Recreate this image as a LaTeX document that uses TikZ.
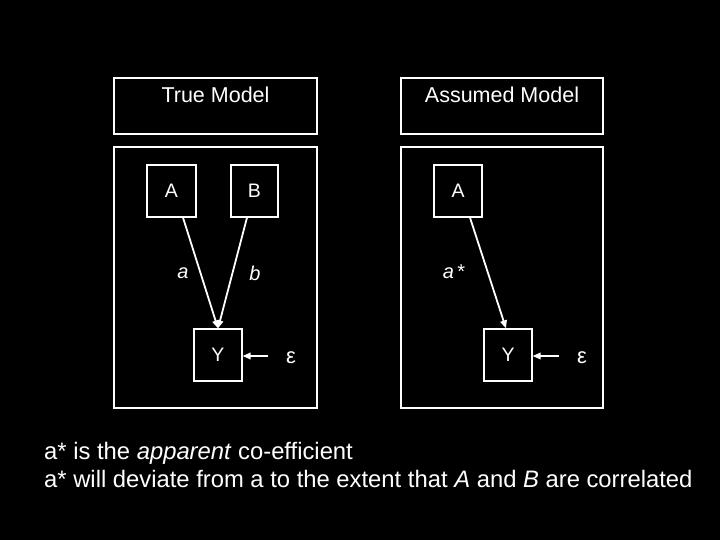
\documentclass[tikz,border=0pt]{standalone}
\usepackage{fontspec}
\setmainfont{Liberation Sans}
\usetikzlibrary{arrows.meta,calc}
\begin{document}
\begin{tikzpicture}[x=1pt,y=-1pt,
  frame/.style={draw=white,line width=1.2pt,inner sep=0pt,anchor=center},
  var/.style={frame,font=\fontsize{19.5}{22}\selectfont,text=white},
  lbl/.style={text=white,inner sep=0pt,font=\fontsize{20}{22}\selectfont},
  eps/.style={text=white,inner sep=0pt,font=\fontsize{22}{24}\selectfont},
  title/.style={text=white,inner sep=0pt,anchor=base,font=\fontsize{21.5}{24}\selectfont},
  body/.style={text=white,inner sep=0pt,anchor=base west,font=\fontsize{23.8}{26}\selectfont},
  arr/.style={draw=white,line width=1.8pt,-{Triangle[length=8pt,width=6.5pt]}}]
\fill[black] (0,0) rectangle (720,540);
\useasboundingbox (0,0) rectangle (720,540);
% title boxes
\node[frame,minimum width=203pt,minimum height=56pt] (T1) at (215.5,106) {};
\node[frame,minimum width=202pt,minimum height=56pt] (T2) at (502,106) {};
\node[title] (T1t) at (215.5,103) {True Model};
\node[title] (T2t) at (502,103) {Assumed Model};
% panels
\node[frame,minimum width=203pt,minimum height=261pt] (P1) at (215.5,277.5) {};
\node[frame,minimum width=202pt,minimum height=261pt] (P2) at (502,277.5) {};
% true model
\node[var,minimum width=49pt,minimum height=52pt] (A1) at (171.5,191) {A};
\node[var,minimum width=47pt,minimum height=52pt] (B1) at (254.5,191) {B};
\node[var,minimum width=48pt,minimum height=52pt] (Y1) at (218,355) {Y};
\node[eps] (e1) at (291,358) {ε};
\node[lbl] (la) at (183,273) {\itshape a};
\node[lbl] (lb) at (255,273) {\itshape b};
\draw[arr] ($(A1.south)+(11.5,0)$) -- (Y1.north);
\draw[arr] ($(B1.south)+(-7.5,0)$) -- (Y1.north);
\draw[arr] ($(e1)+(-23,-2)$) -- ($(Y1.east)+(0,1)$);
% assumed model
\node[var,minimum width=48pt,minimum height=52pt] (A2) at (458,191) {A};
\node[var,minimum width=48pt,minimum height=52pt] (Y2) at (508,355) {Y};
\node[eps] (e2) at (582,358) {ε};
\node[lbl] (las) at (454,272) {\itshape a\upshape\,*};
\draw[arr] ($(A2.south)+(12,0)$) -- ($(Y2.north)+(-2,0)$);
\draw[arr] ($(e2)+(-23,-2)$) -- ($(Y2.east)+(0,1)$);
% text
\node[body] (t1) at (44,459) {a* is the \textit{apparent} co-efficient};
\node[body] (t2) at (44,487) {a* will deviate from a to the extent that \textit{A} and \textit{B} are correlated};
\end{tikzpicture}
\end{document}
